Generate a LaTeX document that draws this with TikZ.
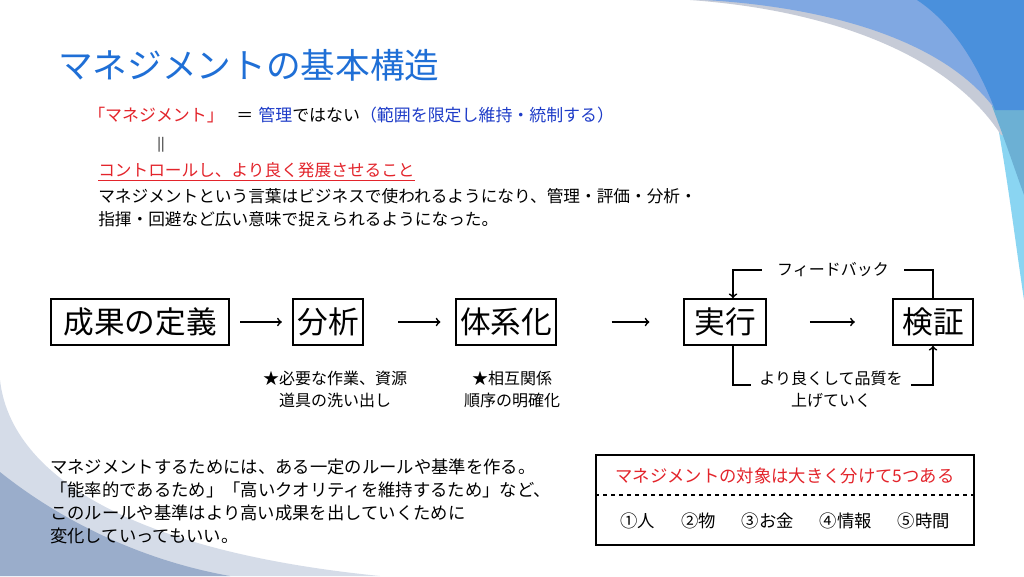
\documentclass[tikz,border=0pt]{standalone}
\usepackage{fontspec}
\setmainfont{Noto Sans CJK JP}
\usetikzlibrary{positioning, calc}
\definecolor{titleblue}{HTML}{1F6FD6}
\definecolor{mred}{HTML}{E3242B}
\definecolor{mblue}{HTML}{1E3CC8}
\definecolor{deepblue}{HTML}{4A90DC}
\definecolor{midblue}{HTML}{80A8E2}
\definecolor{bandgray}{HTML}{C6CBD7}
\definecolor{skycyan}{HTML}{8AD5F2}
\definecolor{tealblue}{HTML}{6CB0D4}
\definecolor{palegray}{HTML}{D5DCE8}
\definecolor{slate}{HTML}{9AADCB}

\begin{document}
\begin{tikzpicture}[x=0.75pt,y=-0.75pt,
  txt/.style={inner sep=0pt,anchor=west,align=left,font=\fontsize{12.5}{17.25}\selectfont},
  stepbox/.style={draw,line width=1.3pt,inner xsep=3pt,minimum height=34.5pt,font=\fontsize{23}{23}\selectfont},
  note/.style={inner ysep=1pt,align=center,font=\fontsize{12}{16.5}\selectfont},
  flow/.style={->,line width=1.3pt},
  link/.style={line width=1.3pt}]
  \useasboundingbox (0,0) rectangle (1024,576);
  \fill[white] (0,0) rectangle (1024,576);
  \fill[skycyan] (995,110) .. controls (1008,180) and (1015,240) .. (1024,300) -- (1024,110) -- cycle;
  \fill[bandgray] (690,0) .. controls (830,10) and (950,55) .. (1001,135) -- (1024,135) -- (1024,0) -- cycle;
  \fill[midblue] (705,0) .. controls (840,8) and (950,45) .. (997,112) -- (1024,112) -- (1024,0) -- cycle;
  \fill[tealblue] (992,106) .. controls (1005,140) and (1015,170) .. (1024,195) -- (1024,106) -- cycle;
  \fill[deepblue] (917,0) .. controls (955,25) and (980,70) .. (995,110) -- (1024,110) -- (1024,0) -- cycle;
  \fill[palegray] (0,380) .. controls (10,470) and (120,550) .. (380,576) -- (0,576) -- cycle;
  \fill[slate] (0,472) .. controls (60,520) and (140,560) .. (230,576) -- (0,576) -- cycle;

  \path (58,65) node[txt,font=\fontsize{26}{26}\selectfont,text=titleblue] (title) {マネジメントの基本構造};
  \path (88,115) node[txt,font=\fontsize{12.7}{12.7}\selectfont] (teigiline) {{\color{mred}「マネジメント」}\hspace{0.75em}＝\hspace{0.3em}{\color{mblue}管理}ではない{\color{mblue}（範囲を限定し維持・統制する）}}
  (161,145) node[txt,anchor=center,font=\fontsize{10}{10}\selectfont] (eq) {||}
  (98,172) node[txt,text=mred] (ctrl) {\underline{コントロールし、より良く発展させること}}
  (98,207.5) node[txt] (kotoba) {マネジメントという言葉はビジネスで使われるようになり、管理・評価・分析・\\指揮・回避など広い意味で捉えられるようになった。};

  \path (140,322) node[stepbox,minimum width=133pt] (teigi) {成果の定義}
  (328,322) node[stepbox] (bunseki) {分析}
  (506,322) node[stepbox] (taikei) {体系化}
  (725,322) node[stepbox,minimum width=62pt] (jikko) {実行}
  (933,322) node[stepbox,minimum width=60pt] (kensho) {検証};
  \draw[flow,shorten <=8pt,shorten >=8pt] (teigi) -- (bunseki);
  \draw[flow,shorten <=26pt,shorten >=11pt] (bunseki) -- (taikei);
  \draw[flow,shorten <=41pt,shorten >=25pt] (taikei) -- (jikko);
  \draw[flow,shorten <=32pt,shorten >=28pt] (jikko) -- (kensho);

  \path (335,389) node[note] (bunsekinote) {★必要な作業、資源\\道具の洗い出し}
  (512,389) node[note] (taikeinote) {★相互関係\\順序の明確化};

  \path (833,270) node[note,inner xsep=11.5pt] (fb) {フィードバック}
  (831,389) node[note,inner xsep=6pt] (kaizen) {より良くして品質を\\上げていく};
  \draw[link] (kensho.north) |- (fb.east);
  \draw[flow] (fb.west) -| ([xshift=6pt]jikko.north);
  \draw[link] ([xshift=6pt]jikko.south) |- ([yshift=3pt]kaizen.west);
  \draw[flow] ([yshift=3pt]kaizen.east) -| (kensho.south);

  \path (50,501.5) node[txt,font=\fontsize{13}{17.25}\selectfont] (rule) {マネジメントするためには、ある一定のルールや基準を作る。\\「能率的であるため」「高いクオリティを維持するため」など、\\このルールや基準はより高い成果を出していくために\\変化していってもいい。};

  \path (785,500) node[draw,line width=1.3pt,minimum width=283pt,minimum height=68pt] (taisho) {}
  (785,476) node[note,font=\fontsize{13}{13}\selectfont,text=mred] (taishotitle) {マネジメントの対象は大きく分けて5つある}
  (785,521) node[note,font=\fontsize{13}{13}\selectfont] (items) {①人\hspace{1.5em}②物\hspace{1.5em}③お金\hspace{1.5em}④情報\hspace{1.5em}⑤時間};
  \draw[dashed,line width=0.8pt] ([yshift=3.75pt]taisho.west) -- ([yshift=3.75pt]taisho.east);
\end{tikzpicture}
\end{document}
